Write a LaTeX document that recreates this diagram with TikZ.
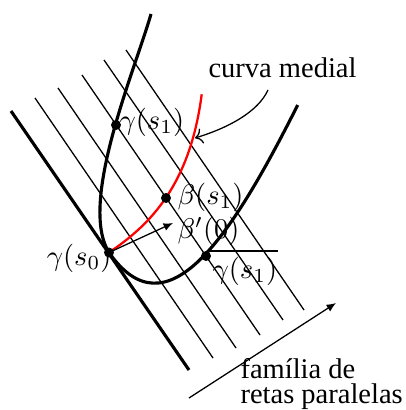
\documentclass[tikz,border=0pt]{standalone}
\usepackage[no-math]{fontspec}
\setmainfont{Liberation Serif}
\usetikzlibrary{arrows.meta}
\begin{document}
\begin{tikzpicture}[x=0.351pt,y=-0.351pt,
  thickline/.style={line width=1.1pt},
  thinline/.style={line width=0.45pt},
  redline/.style={line width=0.8pt,red},
  dotmark/.style={circle,fill=black,inner sep=0pt,minimum size=3.5pt},
  lbl/.style={inner sep=0pt},
  filledarrow/.style={thinline,-{Latex[length=3.3pt,width=2.8pt]}},
  curvedarrow/.style={thinline,->}]
\useasboundingbox (0,0) rectangle (406,410);
% tangent line and family of parallel lines
\coordinate (ta) at (11,111);   \coordinate (tb) at (189,370);
\coordinate (l1a) at (35,98);   \coordinate (l1b) at (213,358);
\coordinate (l2a) at (58,88);   \coordinate (l2b) at (236,348);
\coordinate (l3a) at (82,75);   \coordinate (l3b) at (260,335);
\coordinate (l4a) at (104,60);  \coordinate (l4b) at (283,320);
\coordinate (l5a) at (126,50);  \coordinate (l5b) at (304,310);
\draw[thickline] (ta) -- (tb);
\foreach \i in {1,...,5} \draw[thinline] (l\i a) -- (l\i b);
% key points
\coordinate (s0) at (109,252.5);
\coordinate (g1a) at (116,125);
\coordinate (b1) at (166,198);
\coordinate (g1b) at (206,256);
\coordinate (gtop) at (151,14);
\coordinate (gend) at (297.7,105);
\coordinate (btop) at (201.7,94.3);
% curve gamma
\draw[thickline] (gtop) .. controls (135,70) and (78,203) .. (s0)
  .. controls (166.6,335.1) and (230.3,239.1) .. (gend);
% medial curve beta
\draw[redline] (s0) .. controls (150,225) and (190,185) .. (btop);
% beta'(0)
\coordinate (bp) at (173,223);
\draw[filledarrow] (s0) -- (bp);
% horizontal segment
\coordinate (hla) at (210,251); \coordinate (hlb) at (278,251);
\draw[thinline] (hla) -- (hlb);
% dots
\foreach \p in {s0,g1a,b1,g1b} \node[dotmark] (d\p) at (\p) {};
% labels
\node[lbl,anchor=west] (lg1a) at (119,122) {$\gamma(s_1)$};
\node[lbl,anchor=west] (lb1) at (177,197.5) {$\beta(s_1)$};
\node[lbl,anchor=west] (lbp) at (177,231.5) {$\beta'(0)$};
\node[lbl,anchor=east] (ls0) at (112,258.5) {$\gamma(s_0)$};
\node[lbl,anchor=west] (lg1b) at (212,271) {$\gamma(s_1)$};
\node[lbl,anchor=base west] (lcm) at (208,77.7) {curva medial};
\node[lbl,anchor=north west,align=left,
  execute at begin node={\setlength{\baselineskip}{8.9pt}}]
  (lfam) at (240,358) {família de\\retas paralelas};
% medial arrow
\coordinate (cma) at (268,90); \coordinate (cmb) at (195,138);
\draw[curvedarrow] (cma) .. controls (258,112) and (228,128) .. (cmb);
% family arrow
\coordinate (fa) at (189,398); \coordinate (fb) at (336,303);
\draw[filledarrow] (fa) -- (fb);
\end{tikzpicture}
\end{document}
